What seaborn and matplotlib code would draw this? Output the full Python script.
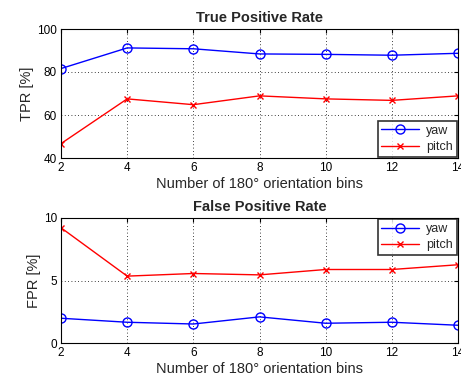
import matplotlib
matplotlib.use("Agg")
import matplotlib.pyplot as plt
import seaborn as sns
import pandas as pd

bins = [2, 4, 6, 8, 10, 12, 14]
tpr_yaw = [81.6, 91.2, 90.8, 88.4, 88.2, 87.8, 88.7]
tpr_pitch = [46.7, 67.5, 64.8, 68.9, 67.5, 66.8, 68.9]
fpr_yaw = [1.98, 1.66, 1.52, 2.09, 1.58, 1.66, 1.42]
fpr_pitch = [9.22, 5.35, 5.56, 5.45, 5.88, 5.88, 6.26]

sns.set_style("white")
plt.rcParams['font.family'] = ['Liberation Sans', 'DejaVu Sans']

fig = plt.figure(figsize=(4.61, 3.81), dpi=100)
ax1 = fig.add_axes([61/461, 1-158/381, 397/461, 129/381])
ax2 = fig.add_axes([61/461, 1-343/381, 397/461, 125/381])

def draw(ax, yaw, pitch, ylim, yticks, ylabel, title, legend_loc):
    df = pd.DataFrame({"x": bins * 2, "y": list(yaw) + list(pitch),
                       "s": ["yaw"] * len(bins) + ["pitch"] * len(bins)})
    sns.lineplot(data=df[df.s == "yaw"], x="x", y="y", ax=ax, color="#0000ff",
                 marker="o", markersize=6.5, markerfacecolor="none",
                 markeredgecolor="#0000ff", markeredgewidth=1.0, lw=1.0, label="yaw")
    sns.lineplot(data=df[df.s == "pitch"], x="x", y="y", ax=ax, color="#ff0000",
                 marker="x", markersize=4.5, markeredgecolor="#ff0000",
                 markeredgewidth=1.0, lw=1.0, label="pitch")
    ax.set_xlim(2, 14)
    ax.set_ylim(*ylim)
    ax.set_xticks(bins)
    ax.set_yticks(yticks)
    ax.tick_params(direction="in", length=3, labelsize=8.5, pad=3,
                   top=True, right=True, colors="black")
    ax.grid(True, linestyle=(0, (1, 3)), color="black", linewidth=0.6)
    for sp in ax.spines.values():
        sp.set_color("black")
        sp.set_linewidth(0.8)
    ax.set_xlabel("Number of 180° orientation bins", fontsize=10.5, labelpad=2)
    ax.set_ylabel(ylabel, fontsize=10.5, labelpad=2)
    ax.set_title(title, fontsize=10.5, fontweight="bold", pad=5)
    leg = ax.legend(loc=legend_loc, fontsize=9, frameon=True, fancybox=False,
                    edgecolor="black", borderaxespad=0.1, handlelength=3.0,
                    borderpad=0.3, labelspacing=0.35, handletextpad=0.6)
    leg.get_frame().set_linewidth(1.2)

draw(ax1, tpr_yaw, tpr_pitch, (40, 100), [40, 60, 80, 100], "TPR [%]",
     "True Positive Rate", "lower right")
draw(ax2, fpr_yaw, fpr_pitch, (0, 10), [0, 5, 10], "FPR [%]",
     "False Positive Rate", "upper right")

fig.savefig("out.png", dpi=100)
